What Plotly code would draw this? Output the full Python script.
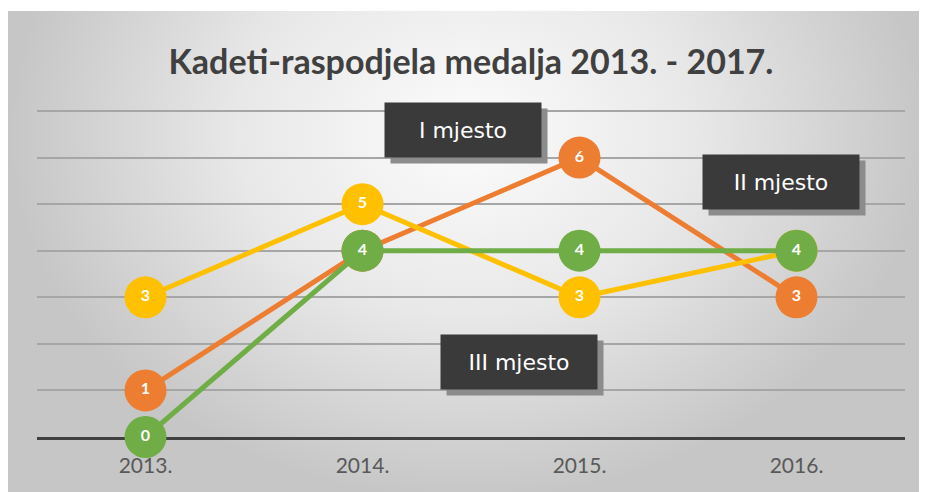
import plotly.graph_objects as go

# podaci
GODINE = ["2013.", "2014.", "2015.", "2016."]
PRVO_MJESTO = [1, 4, 6, 3]
DRUGO_MJESTO = [3, 5, 3, 4]
TRECE_MJESTO = [0, 4, 4, 4]

NASLOV = "Kadeti-raspodjela medalja 2013. - 2017."
OZNAKE = ["I mjesto", "II mjesto", "III mjesto"]

BOJE = {"prvo": "#ED7D31", "drugo": "#FFC000", "trece": "#70AD47"}

W, H = 927, 492
OFF = 8  # stranica ima marginu od 8 px

Y_MAX = 7.1
JEDINICA = (437 - 111) / 7  # px po jedinici na osi y


def px_x(v):
    return max(0, (v - OFF) / W)


def px_y(v):
    return min(1, 1 - (v - OFF) / H)


fig = go.Figure()

# pozadina s radijalnim prijelazom (na osi x/y, ispod svega)
fig.add_trace(go.Scatter(
    x=[0, 1, 1, 0, 0],
    y=[0, 0, 1.5, 1.5, 0],
    mode="lines",
    fill="toself",
    line=dict(width=0),
    fillgradient=dict(type="radial",
                      colorscale=[[0, "#fcfcfc"], [0.5, "#e8e8e8"], [1, "#c6c6c6"]]),
    hoverinfo="skip",
    showlegend=False,
    xaxis="x", yaxis="y",
))

serije = [
    ("I mjesto", PRVO_MJESTO, BOJE["prvo"]),
    ("II mjesto", DRUGO_MJESTO, BOJE["drugo"]),
    ("III mjesto", TRECE_MJESTO, BOJE["trece"]),
]
for ime, vrijednosti, boja in serije:
    fig.add_trace(go.Scatter(
        x=GODINE,
        y=vrijednosti,
        name=ime,
        mode="lines+markers+text",
        line=dict(color=boja, width=5),
        marker=dict(size=42, color=boja),
        text=[str(v) for v in vrijednosti],
        textposition="middle center",
        textfont=dict(family="Lato", size=16, color="white", weight="bold"),
        cliponaxis=False,
        showlegend=False,
        xaxis="x2", yaxis="y2",
    ))

# okviri s natpisima (centar u px)
okviri = [
    (OZNAKE[0], 463, 130),
    (OZNAKE[1], 781, 182),
    (OZNAKE[2], 519, 362),
]
annotations = []
for tekst, cx, cy in okviri:
    # sjena
    annotations.append(dict(
        text=" ", x=px_x(cx + 6), y=px_y(cy + 6), xref="paper", yref="paper",
        xanchor="center", yanchor="middle", showarrow=False,
        width=140, height=38, borderpad=8, bgcolor="#8c8c8c",
        font=dict(family="DejaVu Sans", size=22, color="#8c8c8c"),
    ))
    annotations.append(dict(
        text=tekst, x=px_x(cx), y=px_y(cy), xref="paper", yref="paper",
        xanchor="center", yanchor="middle", showarrow=False,
        width=140, height=38, borderpad=8, bgcolor="#3a3a3a",
        font=dict(family="DejaVu Sans", size=22, color="white"),
    ))

fig.update_layout(
    width=W, height=H,
    margin=dict(l=0, r=0, t=0, b=0),
    paper_bgcolor="white",
    plot_bgcolor="rgba(0,0,0,0)",
    title=dict(text=NASLOV, x=px_x(471), y=px_y(62), xanchor="center", yanchor="middle",
               font=dict(family="Lato", size=34, color="#404040", weight="bold")),
    xaxis=dict(domain=[px_x(6), px_x(925)], range=[0, 1], visible=False, fixedrange=True),
    yaxis=dict(domain=[0, px_y(11)], range=[0, 1], visible=False, fixedrange=True),
    xaxis2=dict(
        domain=[px_x(37), px_x(905)], anchor="y2", type="category",
        range=[-0.5, 3.5], showgrid=False, zeroline=False,
        showline=True, linecolor="#404040", linewidth=3, layer="below traces",
        tickfont=dict(family="Lato", size=21, color="#595959"),
        ticklabelstandoff=8,
    ),
    yaxis2=dict(
        domain=[px_y(437), px_y(111 - (Y_MAX - 7) * JEDINICA)], anchor="x2",
        range=[0, Y_MAX], dtick=1,
        showgrid=True, gridcolor="#a6a6a6", gridwidth=2, zeroline=False,
        showticklabels=False, layer="below traces",
    ),
    annotations=annotations,
)

fig.write_html("out.html")
